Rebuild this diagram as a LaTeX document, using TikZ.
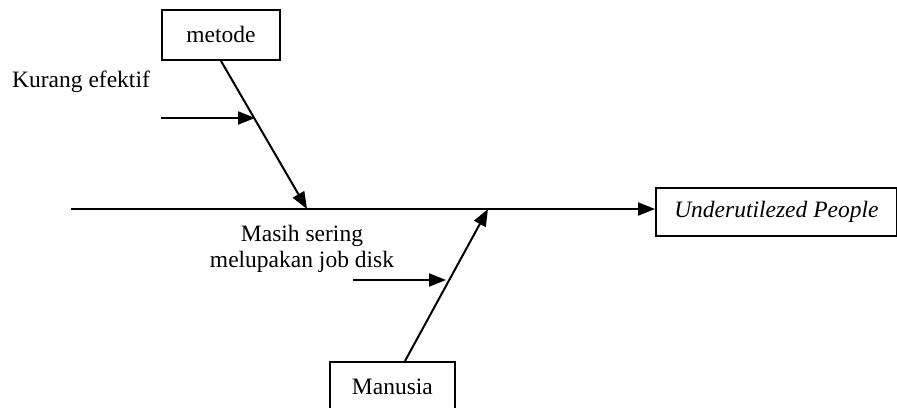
\documentclass[tikz,border=0pt]{standalone}
\usepackage{fontspec}
\setmainfont{Liberation Serif}
\usetikzlibrary{arrows.meta}
\begin{document}
\begin{tikzpicture}[x=1pt,y=-1pt,
  every node/.style={font=\fontsize{23.5}{29}\selectfont, inner sep=0pt},
  box/.style={draw, line width=1.8pt, anchor=north west},
  link/.style={line width=2pt, -{Triangle[length=17pt,width=13pt]}}]
\useasboundingbox (0,0) rectangle (897,407);
% category and effect boxes
\node[box, minimum width=118pt, minimum height=50pt] (metode) at (161,9) {metode};
\node[box, minimum width=125pt, minimum height=50pt] (manusia) at (329,361) {Manusia};
\node[box, minimum width=241pt, minimum height=48pt] (effect) at (655,187) {\itshape Underutilezed People};
% cause labels
\node[anchor=west] (kurang) at (12,82) {Kurang efektif};
\node[align=center, font=\fontsize{23.5}{26}\selectfont] (masih) at (302,249) {Masih sering\\melupakan job disk};
% spine
\coordinate (tail) at (71,209);
\draw[link] (tail) -- (effect.west |- tail);
% bones
\coordinate (mhit) at (307,209);
\coordinate (uhit) at (488,209);
\draw[link] (metode.south) -- (mhit);
\draw[link] (manusia.north -| 405,0) -- (uhit);
% sub-causes
\coordinate (k0) at (161,118);
\coordinate (k1) at (255,118);
\coordinate (s0) at (353,280);
\coordinate (s1) at (446,280);
\draw[link] (k0) -- (k1);
\draw[link] (s0) -- (s1);
\end{tikzpicture}
\end{document}
